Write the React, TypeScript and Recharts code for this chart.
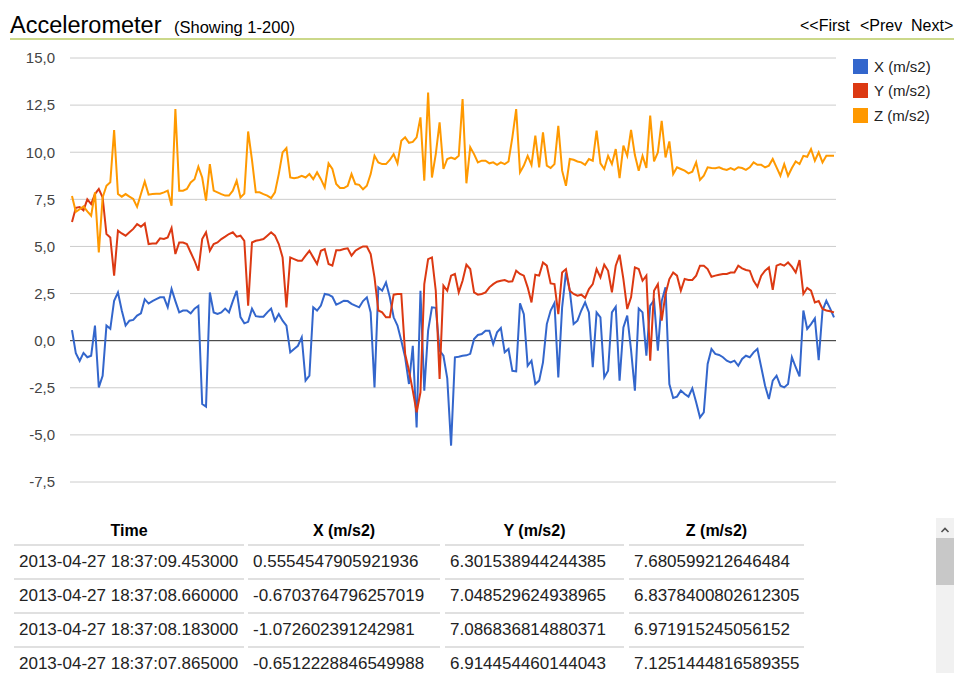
import React from 'react';
import { LineChart, Line, XAxis, YAxis, CartesianGrid, ReferenceLine } from 'recharts';

const xValues = [
  0.5555, -0.6704, -1.0726, -0.6512, -0.88, -0.8, 0.8, -2.48, -1.86, 0.8,
  0.63, 2.12, 2.56, 1.6, 0.8, 1.06, 1.1, 1.33, 1.45, 2.2,
  1.97, 2.1, 2.2, 2.3, 2.3, 1.77, 2.74, 2.1, 1.5, 1.6,
  1.6, 1.45, 1.7, 1.85, -3.36, -3.5, 2.56, 1.5, 1.42, 1.5,
  1.7, 1.5, 2.1, 2.65, 1.25, 0.92, 1.0, 1.7, 1.3, 1.27,
  1.27, 1.5, 1.7, 1.06, 1.41, 1.06, 0.8, -0.62, -0.44, -0.27,
  0.18, -2.12, -1.86, 1.77, 1.6, 1.86, 2.48, 2.44, 2.33, 1.91,
  2.0, 2.12, 2.1, 1.95, 1.86, 1.77, 2.1, 2.3, 1.5, -2.48,
  2.83, 2.65, 3.09, 2.3, 1.24, 0.8, 0.0, -0.88, -2.3, -0.27,
  -4.6, 2.65, -2.65, 0.53, 1.77, 1.74, -0.53, -0.8, -2.0, -5.57,
  -0.88, -0.85, -0.8, -0.78, -0.7, 0.09, 0.3, 0.35, 0.53, 0.53,
  -0.18, 0.44, 0.67, -0.62, -0.44, -1.6, -1.63, 1.98, 1.41, -1.33,
  -1.06, -2.3, -2.12, -1.15, 0.88, 1.6, 2.0, -1.95, 1.77, 3.62,
  2.65, 0.88, 1.06, 1.6, 2.03, 1.5, -1.41, 1.5, 1.24, -1.95,
  -1.6, 1.5, 1.8, -2.12, 0.7, 1.33, -0.5, -2.65, 1.7, 1.5,
  -0.8, 1.86, 2.14, -0.53, 2.1, 2.83, -2.3, -3.04, -2.97, -2.65,
  -2.83, -2.97, -2.53, -3.27, -4.07, -3.8, -1.24, -0.44, -0.7, -0.76,
  -0.88, -1.06, -1.15, -1.06, -1.33, -0.97, -0.8, -0.88, -0.62, -0.44,
  -1.41, -2.39, -3.1, -2.12, -1.86, -2.39, -2.48, -2.3, -0.88, -1.41,
  -1.9, 1.6, 0.62, 0.88, 1.18, -1.03, 1.6, 2.12, 1.7, 1.24,
];

const yValues = [
  6.3015, 7.0485, 7.0868, 6.9145, 7.5, 7.25, 7.78, 8.05, 7.6, 5.66,
  5.48, 3.45, 5.84, 5.69, 5.57, 5.75, 5.93, 6.19, 6.05, 6.22,
  5.13, 5.16, 5.16, 5.43, 5.4, 5.48, 5.98, 4.6, 5.21, 5.21,
  5.13, 4.68, 4.24, 3.71, 5.39, 5.75, 4.77, 5.13, 5.21, 5.39,
  5.52, 5.66, 5.75, 5.52, 5.57, 5.3, 1.86, 5.21, 5.3, 5.34,
  5.39, 5.57, 5.75, 5.57, 5.13, 4.42, 1.77, 4.42, 4.33, 4.24,
  4.24, 4.51, 4.77, 4.42, 4.07, 4.77, 4.86, 4.07, 3.98, 4.8,
  4.8, 4.86, 4.9, 4.51, 4.77, 4.9, 5.0, 5.0, 4.6, 3.36,
  1.6, 1.5, 1.24, 1.24, 2.44, 2.48, 2.48, -0.7, -1.6, -2.65,
  -3.8, -2.74, 3.0, 4.33, 4.42, 2.65, -2.03, 2.92, 2.65, 3.45,
  3.54, 2.56, 3.18, 4.03, 3.8, 2.56, 2.44, 2.48, 2.56, 2.83,
  3.0, 3.13, 3.18, 3.22, 3.13, 3.15, 3.71, 3.54, 3.45, 2.83,
  2.03, 3.5, 3.45, 4.15, 3.98, 3.04, 3.0, 1.41, 3.62, 3.8,
  2.65, 2.48, 2.39, 2.44, 2.27, 2.74, 3.0, 3.8, 3.36, 4.03,
  3.71, 2.56, 3.98, 4.56, 3.27, 1.68, 2.3, 3.89, 3.8, 3.18,
  3.45, -1.06, 2.65, 3.0, 1.06, 2.48, 3.27, 3.62, 3.45, 2.65,
  3.27, 3.22, 3.22, 3.45, 3.98, 3.98, 3.8, 3.39, 3.45, 3.5,
  3.54, 3.54, 3.62, 3.62, 3.98, 3.84, 3.75, 3.71, 3.18, 2.86,
  3.45, 3.71, 3.89, 2.7, 3.98, 4.07, 3.98, 4.15, 3.93, 3.62,
  4.28, 2.48, 2.8, 2.65, 2.03, 2.1, 1.68, 1.6, 1.56, 1.5,
];

const zValues = [
  7.6806, 6.8378, 6.9719, 7.1251, 6.86, 6.63, 7.87, 4.68, 7.6, 8.22,
  8.4, 11.18, 7.78, 7.64, 7.78, 7.64, 7.52, 7.1, 7.78, 8.45,
  7.75, 7.78, 7.8, 7.8, 7.87, 7.96, 7.16, 12.29, 7.96, 7.96,
  8.05, 8.4, 8.57, 9.23, 8.66, 7.43, 9.37, 7.96, 7.87, 7.78,
  7.7, 7.7, 7.96, 8.49, 7.6, 7.8, 11.1, 9.6, 7.87, 7.87,
  7.78, 7.7, 7.57, 7.87, 8.84, 9.99, 10.22, 8.66, 8.62, 8.66,
  8.75, 8.66, 8.84, 8.57, 8.93, 8.57, 8.13, 9.41, 9.11, 8.31,
  8.1, 8.1, 8.22, 8.84, 8.31, 8.27, 8.03, 8.22, 8.84, 9.81,
  9.46, 9.37, 9.37, 9.59, 9.9, 9.41, 10.61, 10.79, 10.5, 10.55,
  10.79, 11.85, 8.49, 13.17, 8.66, 9.9, 11.58, 9.11, 9.64, 9.72,
  9.64, 9.81, 12.82, 8.35, 10.26, 9.9, 9.46, 9.55, 9.55, 9.41,
  9.46, 9.33, 9.46, 9.37, 9.51, 10.79, 12.29, 8.93, 9.29, 9.81,
  9.33, 10.88, 9.2, 11.05, 9.29, 9.16, 9.37, 11.4, 9.02, 8.22,
  9.64, 9.6, 9.51, 9.46, 9.33, 9.64, 9.55, 11.14, 9.41, 9.11,
  9.81, 9.37, 10.17, 8.62, 10.35, 9.81, 11.18, 9.85, 9.02, 9.81,
  9.16, 11.94, 9.51, 9.99, 11.67, 9.72, 10.57, 8.84, 9.2, 9.11,
  9.02, 8.88, 8.97, 9.46, 8.53, 8.75, 9.2, 9.16, 9.15, 9.2,
  9.11, 9.06, 9.16, 9.06, 9.2, 9.16, 9.06, 9.2, 9.46, 9.33,
  9.33, 9.2, 9.29, 9.64, 9.2, 8.75, 9.37, 8.75, 9.16, 9.51,
  9.37, 9.81, 9.76, 10.17, 9.55, 9.99, 9.46, 9.81, 9.81, 9.81,
];

const yTicks = [15, 12.5, 10, 7.5, 5, 2.5, 0, -2.5, -5, -7.5];
const seriesKeys = ['x', 'y', 'z'];
const seriesNames = ['X (m/s2)', 'Y (m/s2)', 'Z (m/s2)'];
const seriesColors = ['#3366cc', '#dc3912', '#ff9900'];

const tableHeaders = ['Time', 'X (m/s2)', 'Y (m/s2)', 'Z (m/s2)'];
const tableTimes = [
  '2013-04-27 18:37:09.453000',
  '2013-04-27 18:37:08.660000',
  '2013-04-27 18:37:08.183000',
  '2013-04-27 18:37:07.865000',
];
const tableX = ['0.5554547905921936', '-0.6703764796257019', '-1.072602391242981', '-0.6512228846549988'];
const tableY = ['6.301538944244385', '7.048529624938965', '7.086836814880371', '6.914454460144043'];
const tableZ = ['7.680599212646484', '6.8378400802612305', '6.971915245056152', '7.1251444816589355'];

const data = xValues.map((x, i) => ({ n: i + 1, x, y: yValues[i], z: zValues[i] }));

const FONT = "'Liberation Sans', Arial, sans-serif";
const colBoxes = [
  { left: 14, width: 230 },
  { left: 248, width: 192 },
  { left: 445, width: 179 },
  { left: 629, width: 175 },
];

export default function App() {
  const tableCols = [tableTimes, tableX, tableY, tableZ];
  return (
    <div style={{ position: 'absolute', left: 0, top: 0, width: 954, height: 673, overflow: 'hidden', background: '#fff', fontFamily: FONT }}>
      <svg width={954} height={45} style={{ position: 'absolute', left: 0, top: 0 }}>
        <text x={10} y={33} fontSize={23.5} fill="#000" fontFamily={FONT}>Accelerometer</text>
        <text x={174} y={33} fontSize={16.5} fill="#000" fontFamily={FONT}>(Showing 1-200)</text>
        <text x={800} y={31} fontSize={16} fill="#000" fontFamily={FONT}>{'<<First'}</text>
        <text x={860} y={31} fontSize={16} fill="#000" fontFamily={FONT}>{'<Prev'}</text>
        <text x={911} y={31} fontSize={16} fill="#000" fontFamily={FONT}>{'Next>'}</text>
        <line x1={10} x2={954} y1={39} y2={39} stroke="#cbd88a" strokeWidth={2} />
      </svg>

      <div style={{ position: 'absolute', left: 0, top: 0 }}>
        <LineChart width={954} height={500} data={data} margin={{ top: 58, right: 118, bottom: 18, left: 0 }}>
          <CartesianGrid vertical={false} stroke="#cccccc" strokeWidth={1} />
          <XAxis dataKey="n" hide padding={{ left: 2, right: 2 }} />
          <YAxis
            width={70}
            domain={[-7.5, 15]}
            ticks={yTicks}
            tickLine={false}
            axisLine={false}
            tickMargin={9}
            interval={0}
            tick={{ fontSize: 15, fill: '#444', fontFamily: FONT }}
            tickFormatter={(v: number) => v.toFixed(1).replace('.', ',')}
          />
          <ReferenceLine y={0} stroke="#333" strokeWidth={1} />
          {seriesKeys.map((k, i) => (
            <Line
              key={k}
              dataKey={k}
              name={seriesNames[i]}
              type="linear"
              stroke={seriesColors[i]}
              strokeWidth={2}
              dot={false}
              activeDot={false}
              isAnimationActive={false}
            />
          ))}
        </LineChart>
      </div>

      {seriesNames.map((name, i) => (
        <div key={name} style={{ position: 'absolute', left: 853, top: 59 + i * 24.4, height: 15, display: 'flex', alignItems: 'center' }}>
          <div style={{ width: 15, height: 15, background: seriesColors[i] }} />
          <span style={{ marginLeft: 6, fontSize: 15, color: '#222', lineHeight: '15px' }}>{name}</span>
        </div>
      ))}

      {tableHeaders.map((h, c) => (
        <div key={h} style={{ position: 'absolute', left: colBoxes[c].left, top: 516, width: colBoxes[c].width, height: 30, lineHeight: '30px', textAlign: 'center', fontWeight: 'bold', fontSize: 16, color: '#000' }}>{h}</div>
      ))}
      {tableTimes.map((_, r) => (
        <React.Fragment key={r}>
          {tableCols.map((col, c) => (
            <div key={c} style={{ position: 'absolute', left: colBoxes[c].left, top: 544 + r * 34, width: colBoxes[c].width, height: 34, borderTop: '2px solid #e0e0e0', lineHeight: '32px', paddingLeft: 5, boxSizing: 'border-box', fontSize: 17, color: '#222', whiteSpace: 'nowrap', overflow: 'visible' }}>{col[r]}</div>
          ))}
        </React.Fragment>
      ))}

      <div style={{ position: 'absolute', left: 936, top: 518, width: 18, height: 155, background: '#f1f1f1' }} />
      <div style={{ position: 'absolute', left: 936, top: 538, width: 18, height: 47, background: '#c8c8c8' }} />
      <svg width={18} height={18} style={{ position: 'absolute', left: 936, top: 521 }}>
        <path d="M5.5 11 L9 7.5 L12.5 11" stroke="#505050" strokeWidth={1.6} fill="none" />
      </svg>
    </div>
  );
}
